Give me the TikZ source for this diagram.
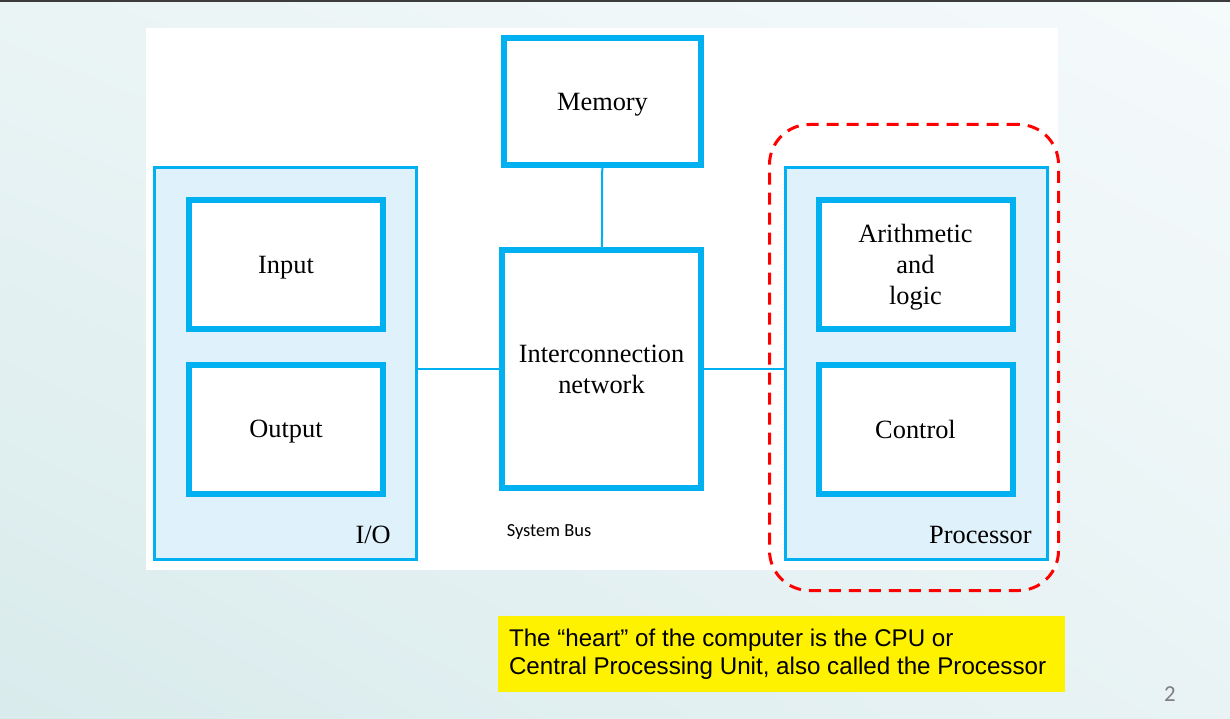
\documentclass[tikz,border=0pt]{standalone}
\usepackage{fontspec}
\setmainfont{Liberation Serif}
\newfontfamily\notefont{Liberation Sans}
\newfontfamily\busfont{Carlito}
\usetikzlibrary{shadings}
\definecolor{boxblue}{HTML}{00B0F0}
\definecolor{grpfill}{HTML}{DFF1FB}
\definecolor{topgray}{HTML}{3C3C3C}
\definecolor{pagegray}{HTML}{7F7F7F}
\definecolor{bgul}{HTML}{EAF4F5}
\definecolor{bgur}{HTML}{F5FAFB}
\definecolor{bgll}{HTML}{D9EBEC}
\definecolor{bglr}{HTML}{E9F3F5}

\begin{document}
\begin{tikzpicture}[x=0.2mm,y=-0.2mm,
  unit/.style={draw=boxblue,line width=1.2mm,fill=white,align=center,text depth=0pt,
    font=\fontsize{15}{17.5}\selectfont,minimum width=3.88cm,minimum height=2.58cm},
  group/.style={draw=boxblue,line width=0.6mm,fill=grpfill,
    minimum width=5.24cm,minimum height=7.84cm},
  bus/.style={draw=boxblue,line width=0.4mm},
  lbl/.style={anchor=base east,inner sep=0pt,font=\fontsize{15}{17.5}\selectfont}]

\useasboundingbox (0,0) rectangle (1230,718);
\shade[upper left=bgul,upper right=bgur,lower left=bgll,lower right=bglr]
  (0,0) rectangle (1230,718);
\fill[topgray] (0,0) rectangle (1230,2);
\fill[white] (146,28) rectangle (1058,570);

% I/O
\node[group] (io) at (285.5,363.5) {};
\node[unit] (in) at (286,264.5) {Input};
\node[unit] (out) at (286,429) {Output};
\node[lbl] (iolbl) at (391,543) {I/O};

% Processor
\node[group] (proc) at (916,363.5) {};
\node[unit] (alu) at (915.5,264.5) {Arithmetic\\and\\logic};
\node[unit] (ctl) at (915.5,429) {Control};
\node[lbl] (proclbl) at (1032,543) {Processor};

% Memory, network
\node[unit,minimum width=3.94cm,minimum height=2.54cm] (mem) at (602.5,101.5) {Memory};
\node[unit,minimum width=3.98cm,minimum height=4.76cm] (net) at (601.5,369) {Interconnection\\network};
\node[font=\busfont\fontsize{10.5}{12}\selectfont] (buslbl) at (549,532) {System Bus};

% bus lines
\draw[bus] (mem) -- (net);
\draw[bus] (io.east |- net.west) -- (net.west);
\draw[bus] (net.east) -- (net.east -| proc.west);

% CPU
\node[draw=red,line width=0.6mm,dash pattern=on 2.4mm off 1.6mm,rounded corners=8mm,
  minimum width=5.78cm,minimum height=9.32cm] (cpu) at (914,357.5) {};

\node[fill=yellow,minimum width=11.3cm,minimum height=1.52cm,inner xsep=2.2mm,
  text width=10.9cm,align=flush left,font=\notefont\fontsize{13.75}{15.9}\selectfont] (note) at (781.5,654)
  {The “heart” of the computer is the CPU or\\Central Processing Unit, also called the Processor};

\node[text=pagegray,font=\busfont\fontsize{13}{15}\selectfont] (page) at (1170,694) {2};

\end{tikzpicture}
\end{document}
